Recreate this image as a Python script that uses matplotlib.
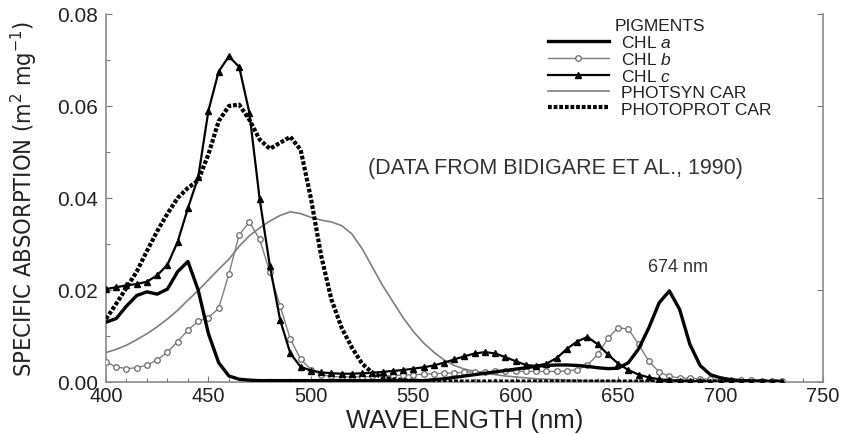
import matplotlib
matplotlib.use("Agg")
import matplotlib.pyplot as plt
from matplotlib.ticker import MultipleLocator, FormatStrFormatter

# ---------------- data ----------------
wavelength = list(range(400, 735, 5))  # nm

chl_a = [0.0130, 0.0138, 0.0165, 0.0188, 0.0196, 0.0191, 0.0202, 0.0240, 0.0262, 0.0200,
         0.0105, 0.0042, 0.0013, 0.0006, 0.0004, 0.0003, 0.0003, 0.0003, 0.0003, 0.0003,
         0.0003, 0.0003, 0.0003, 0.0003, 0.0003, 0.0003, 0.0003, 0.0003, 0.0003, 0.0003,
         0.0003, 0.0003, 0.0005, 0.0007, 0.0010, 0.0013, 0.0016, 0.0019, 0.0022, 0.0025,
         0.0028, 0.0031, 0.0034, 0.0036, 0.0037, 0.0037, 0.0036, 0.0034, 0.0031, 0.0029,
         0.0030, 0.0042, 0.0072, 0.0118, 0.0172, 0.0198, 0.0158, 0.0082, 0.0036, 0.0016,
         0.0009, 0.0005, 0.0003, 0.0002, 0.0002, 0.0001, 0.0001]

chl_b = [0.0043, 0.0033, 0.0029, 0.0031, 0.0037, 0.0048, 0.0065, 0.0088, 0.0113, 0.0132,
         0.0140, 0.0160, 0.0235, 0.0320, 0.0348, 0.0310, 0.0239, 0.0165, 0.0093, 0.0050,
         0.0027, 0.0016, 0.0012, 0.0011, 0.0011, 0.0011, 0.0012, 0.0013, 0.0014, 0.0015,
         0.0016, 0.0017, 0.0018, 0.0019, 0.0020, 0.0021, 0.0022, 0.0022, 0.0023, 0.0023,
         0.0023, 0.0023, 0.0023, 0.0023, 0.0023, 0.0024, 0.0027, 0.0036, 0.0060, 0.0095,
         0.0118, 0.0115, 0.0082, 0.0045, 0.0022, 0.0012, 0.0009, 0.0008, 0.0007, 0.0006,
         0.0005, 0.0005, 0.0004, 0.0004, 0.0003, 0.0003, 0.0003]

chl_c = [0.0202, 0.0206, 0.0210, 0.0213, 0.0218, 0.0232, 0.0255, 0.0305, 0.0378, 0.0445,
         0.0590, 0.0675, 0.0708, 0.0685, 0.0585, 0.0398, 0.0252, 0.0135, 0.0062, 0.0033,
         0.0025, 0.0021, 0.0019, 0.0018, 0.0018, 0.0019, 0.0020, 0.0022, 0.0024, 0.0026,
         0.0029, 0.0032, 0.0036, 0.0042, 0.0049, 0.0056, 0.0062, 0.0065, 0.0062, 0.0054,
         0.0045, 0.0037, 0.0035, 0.0040, 0.0052, 0.0072, 0.0088, 0.0098, 0.0082, 0.0060,
         0.0040, 0.0026, 0.0016, 0.0010, 0.0006, 0.0004, 0.0003, 0.0002, 0.0002, 0.0001,
         0.0001, 0.0001, 0.0001, 0.0001, 0.0001, 0.0001, 0.0001]

photsyn_car = [0.0064, 0.0071, 0.0080, 0.0092, 0.0105, 0.0120, 0.0137, 0.0156, 0.0178, 0.0199,
               0.0222, 0.0245, 0.0267, 0.0295, 0.0318, 0.0335, 0.0350, 0.0362, 0.0370, 0.0366,
               0.0358, 0.0352, 0.0348, 0.0340, 0.0322, 0.0290, 0.0250, 0.0210, 0.0175, 0.0140,
               0.0110, 0.0085, 0.0065, 0.0048, 0.0036, 0.0028, 0.0023, 0.0019, 0.0016, 0.0013,
               0.0011, 0.0009, 0.0007, 0.0006, 0.0005, 0.0004, 0.0003, 0.0003, 0.0002, 0.0002,
               0.0002, 0.0001, 0.0001, 0.0001, 0.0001, 0.0001, 0.0001, 0.0001, 0.0001, 0.0001,
               0.0001, 0.0001, 0.0001, 0.0001, 0.0001, 0.0001, 0.0001]

photoprot_car = [0.0137, 0.0170, 0.0205, 0.0240, 0.0285, 0.0328, 0.0366, 0.0400, 0.0422, 0.0438,
                 0.0495, 0.0567, 0.0600, 0.0603, 0.0570, 0.0527, 0.0507, 0.0520, 0.0533, 0.0505,
                 0.0400, 0.0275, 0.0180, 0.0118, 0.0075, 0.0040, 0.0020, 0.0010, 0.0006, 0.0004,
                 0.0003, 0.0002, 0.0001, 0.0001, 0.0001, 0.0001, 0.0001, 0.0001, 0.0001, 0.0001,
                 0.0001, 0.0001, 0.0001, 0.0001, 0.0001, 0.0001, 0.0001, 0.0001, 0.0001, 0.0001,
                 0.0001, 0.0001, 0.0001, 0.0001, 0.0001, 0.0001, 0.0001, 0.0001, 0.0001, 0.0001,
                 0.0001, 0.0001, 0.0001, 0.0001, 0.0001, 0.0001, 0.0001]

series_labels = ["CHL $\\it{a}$", "CHL $\\it{b}$", "CHL $\\it{c}$", "PHOTSYN CAR", "PHOTOPROT CAR"]
legend_title = "PIGMENTS"
note_text = "(DATA FROM BIDIGARE ET AL., 1990)"
peak_text = "674 nm"
x_ticks = [400, 450, 500, 550, 600, 650, 700, 750]
y_ticks = [0.00, 0.02, 0.04, 0.06, 0.08]

# ---------------- figure ----------------
plt.rcParams['font.family'] = ['Liberation Sans', 'DejaVu Sans']
plt.rcParams['mathtext.fontset'] = 'custom'
plt.rcParams['mathtext.rm'] = 'Liberation Sans'
plt.rcParams['mathtext.it'] = 'Liberation Sans:italic'

fig = plt.figure(figsize=(8.42, 4.35), dpi=100)
W, H = 842, 435
ax = fig.add_axes([106 / W, 1 - 383 / H, 717 / W, 368 / H])

gray = '#7f7f7f'
l_phs, = ax.plot(wavelength, photsyn_car, color=gray, lw=1.2, zorder=2)
l_b, = ax.plot(wavelength, chl_b, color=gray, lw=1.0, marker='o', ms=4.0,
               mfc='white', mec='#6a6a6a', mew=0.9, zorder=3)
l_pp, = ax.plot(wavelength, photoprot_car, color='black', lw=3.0,
                linestyle=(0, (0.9, 0.45)), zorder=4)
l_a, = ax.plot(wavelength, chl_a, color='black', lw=2.4, zorder=5)
l_c, = ax.plot(wavelength, chl_c, color='black', lw=1.6, marker='^', ms=4.5,
               mfc='black', mec='black', zorder=6)

ax.set_xlim(400, 750)
ax.set_ylim(0, 0.08)
ax.set_xticks(x_ticks)
ax.set_yticks(y_ticks)
ax.yaxis.set_major_formatter(FormatStrFormatter('%.2f'))
ax.xaxis.set_minor_locator(MultipleLocator(10))
ax.yaxis.set_minor_locator(MultipleLocator(0.01))
ax.tick_params(axis='both', which='both', direction='in', colors='#777777',
               labelcolor='#222222', labelsize=15)
ax.tick_params(axis='both', which='major', length=4, width=0.8)
ax.tick_params(axis='both', which='minor', length=3, width=0.8)
ax.tick_params(axis='y', right=True, left=True, pad=6)
ax.tick_params(axis='x', pad=3, labelsize=14.5)

for s in ['left', 'right', 'bottom']:
    ax.spines[s].set_color('#8a8a8a')
    ax.spines[s].set_linewidth(1.2)
ax.spines['top'].set_visible(False)

ax.set_xlabel("WAVELENGTH (nm)", fontsize=18.5, color='#222222', labelpad=2)
ylab = ax.set_ylabel("SPECIFIC ABSORPTION (m$\\mathregular{^{2}}$ mg$\\mathregular{^{-1}}$)",
                     fontsize=19, color='#222222', family='DejaVu Sans',
                     fontstretch='condensed')
ax.yaxis.set_label_coords(-0.093, 0.5)

# fit the y label length to the reference (~355 px long)
fig.canvas.draw()
r = fig.canvas.get_renderer()
h = ylab.get_window_extent(r).height
if h > 0:
    ylab.set_fontsize(19 * 355.0 / h)

ax.text(619.5, 0.0467, note_text, ha='center', va='center', fontsize=15.5, color='#333333')
ax.text(679, 0.0250, peak_text, ha='center', va='center', fontsize=13, color='#333333')

leg = ax.legend([l_a, l_b, l_c, l_phs, l_pp], series_labels, title=legend_title,
                loc='upper left', bbox_to_anchor=(548 / W, 1 - 19 / H),
                bbox_transform=fig.transFigure, frameon=False, numpoints=1,
                fontsize=12.5, title_fontsize=12.5, handlelength=3.5, handletextpad=0.68,
                labelspacing=0.06, borderpad=0, borderaxespad=0)
for t in leg.get_texts():
    t.set_color('#222222')
leg.get_title().set_color('#222222')

fig.savefig("out.png", dpi=100)
